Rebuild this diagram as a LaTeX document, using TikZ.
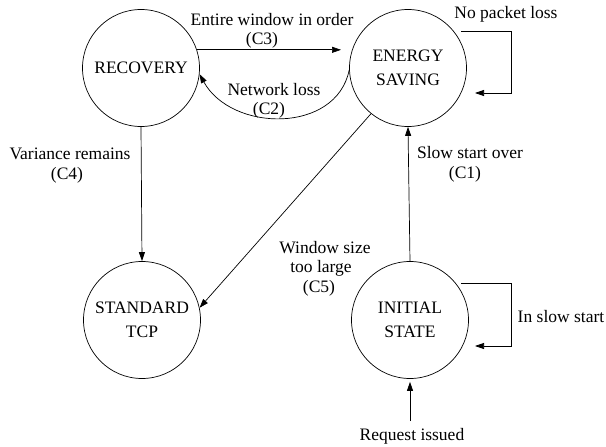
\documentclass[tikz,border=0pt]{standalone}
\usepackage{fontspec}
\setmainfont{Liberation Serif}
\usetikzlibrary{arrows.meta}
\begin{document}
\begin{tikzpicture}[x=1pt,y=-1pt,
  state/.style={circle,draw,line width=0.7pt,minimum size=117pt,inner sep=0pt,align=center,font=\fontsize{17.5}{24.5}\selectfont},
  lbl/.style={inner sep=0pt,text height=12pt,text depth=0pt,font=\fontsize{17.5}{20}\selectfont},
  conn/.style={line width=0.7pt,-{Triangle[length=9pt,width=6pt]}}]
\useasboundingbox (0,0) rectangle (606,447);
% states
\node[state] (rec) at (141,68) {RECOVERY};
\node[state] (es) at (408,68) {ENERGY\\SAVING};
\node[state] (std) at (142,320) {STANDARD\\TCP};
\node[state] (init) at (410,320) {INITIAL\\STATE};
% loop / free-end coordinates
\coordinate (esA) at (461,31);
\coordinate (esB) at (511,31);
\coordinate (esC) at (511,93);
\coordinate (esD) at (475,93);
\coordinate (inA) at (461,283);
\coordinate (inB) at (511,283);
\coordinate (inC) at (511,346);
\coordinate (inD) at (475,346);
\coordinate (req) at (410,421);
% connectors
\draw[conn,shorten >=11pt] (rec.18) -- (es.162);
\draw[conn] (es.182) .. controls +(-13,64) and +(32,58) .. (rec.-6);
\draw[conn] (esA) -- (esB) -- (esC) -- (esD);
\draw[conn] (init.north) -- (es.south);
\draw[conn] (es.231) -- (std.12);
\draw[conn] (rec.south) -- (std.north);
\draw[conn] (inA) -- (inB) -- (inC) -- (inD);
\draw[conn,shorten >=3pt] (req) -- (init.south);
% labels
\node[lbl] (l3a) at (272,20) {Entire window in order};
\node[lbl] (l3b) at (262,39) {(C3)};
\node[lbl] (l2a) at (274,89) {Network loss};
\node[lbl] (l2b) at (269,108) {(C2)};
\node[lbl] (lnp) at (506,13) {No packet loss};
\node[lbl] (l1a) at (470,152) {Slow start over};
\node[lbl] (l1b) at (465,172) {(C1)};
\node[lbl] (l4a) at (70,153) {Variance remains};
\node[lbl] (l4b) at (67,173) {(C4)};
\node[lbl] (l5a) at (325,247) {Window size};
\node[lbl] (l5b) at (321,266) {too large};
\node[lbl] (l5c) at (319,286) {(C5)};
\node[lbl] (lss) at (561,316) {In slow start};
\node[lbl] (lrq) at (412,434) {Request issued};
\end{tikzpicture}
\end{document}
